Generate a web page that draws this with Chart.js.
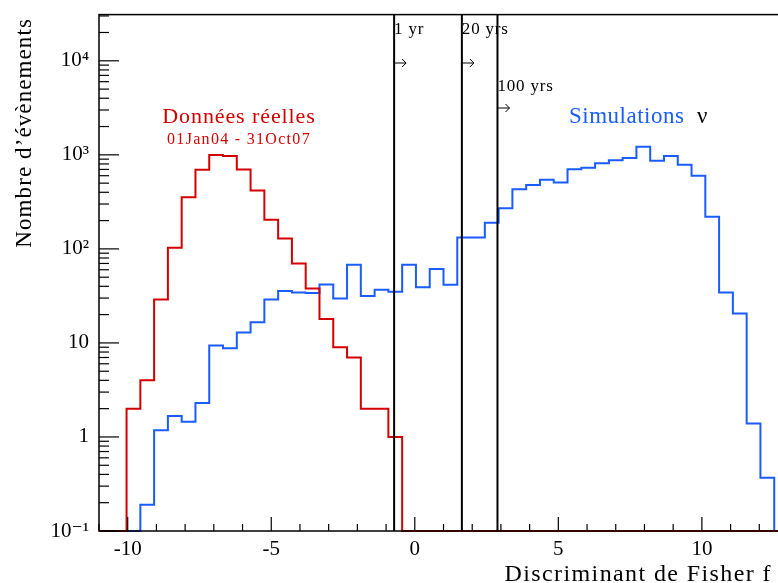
<!DOCTYPE html>
<html>
<head>
<meta charset="utf-8">
<script src="https://cdn.jsdelivr.net/npm/chart.js@4.4.1/dist/chart.umd.min.js"></script>
<style>
  html, body { margin: 0; padding: 0; overflow: hidden; background: #fff; }
  canvas { display: block; }
</style>
</head>
<body>
<canvas id="fisher" width="800" height="583"></canvas>
<script>
// histogram binning (-11 .. 13, 50 bins)
const histMin = -11;
const histMax = 13;
const nBins = 50;

// Données réelles (01Jan04 - 31Oct07)
const dataCounts = [
  0, 0, 2, 4, 29, 103, 354, 696, 998, 973,
  697, 417, 204, 129, 70, 38, 18, 9, 7, 2,
  2, 1, 0, 0, 0, 0, 0, 0, 0, 0,
  0, 0, 0, 0, 0, 0, 0, 0, 0, 0,
  0, 0, 0, 0, 0, 0, 0, 0, 0, 0,
];

// Simulations nu
const simCounts = [
  0, 0, 0, 0.19, 1.18, 1.67, 1.45, 2.3, 9.4, 8.8,
  12.9, 16.6, 29, 35.6, 34.4, 33.9, 41.9, 29.7, 68, 31.5,
  36.8, 35, 68, 39, 61, 41.6, 132, 132, 190, 270,
  430, 479, 545, 507, 702, 727, 813, 875, 927, 1222,
  867, 973, 787, 601, 219, 34.4, 20.5, 1.39, 0.368, 0,
];

// cuts on f
const cutValues = [-0.72, 1.64, 2.88];
const cutLabels = ["1 yr", "20 yrs", "100 yrs"];

const xTickValues = [-10, -5, 0, 5, 10];
const yTickValues = [0.1, 1, 10, 100, 1000, 10000];
const yTickLabels = ["10\u207B\u00B9", "1", "10", "10\u00B2", "10\u00B3", "10\u2074"];

const yMin = 0.1;
const yMax = 31000;
const serif = "'Liberation Serif', 'DejaVu Serif', serif";
const red = "#d40000";
const blue = "#1a5cff";

function histPoints(counts) {
  const w = (histMax - histMin) / nBins;
  const pts = counts.map((v, i) => ({ x: histMin + i * w, y: v > 0 ? v : yMin }));
  const last = counts[counts.length - 1];
  pts.push({ x: histMax, y: last > 0 ? last : yMin });
  return pts;
}

function drawText(ctx, txt, x, y, size, spacing) {
  ctx.font = size + "px " + serif;
  ctx.letterSpacing = spacing + "px";
  ctx.fillText(txt, x, y);
  ctx.letterSpacing = "0px";
}

const decorPlugin = {
  id: "decor",
  afterDraw(chart) {
    const ctx = chart.ctx;
    const area = chart.chartArea;
    const xs = chart.scales.x;
    const ys = chart.scales.y;
    ctx.save();

    // frame
    ctx.strokeStyle = "#000";
    ctx.lineWidth = 1.5;
    ctx.strokeRect(area.left, area.top, area.right - area.left, area.bottom - area.top);

    // y ticks (inside)
    ctx.lineWidth = 1.2;
    for (let d = -1; d <= 4; d++) {
      for (let m = 1; m <= 9; m++) {
        const v = m * Math.pow(10, d);
        if (v < yMin || v > yMax) continue;
        const py = ys.getPixelForValue(v);
        const len = m === 1 ? 20 : 10;
        ctx.beginPath();
        ctx.moveTo(area.left, py);
        ctx.lineTo(area.left + len, py);
        ctx.stroke();
      }
    }
    // x ticks (inside)
    for (let v = -11; v <= 13; v++) {
      const px = xs.getPixelForValue(v);
      const len = v % 5 === 0 ? 14 : 7;
      ctx.beginPath();
      ctx.moveTo(px, area.bottom);
      ctx.lineTo(px, area.bottom - len);
      ctx.stroke();
    }

    // cut lines
    ctx.lineWidth = 2;
    cutValues.forEach((c, i) => {
      const px = xs.getPixelForValue(c);
      ctx.beginPath();
      ctx.moveTo(px, area.top);
      ctx.lineTo(px, area.bottom);
      ctx.stroke();

      const ty = i < 2 ? 30 : 87;
      const ay = i < 2 ? 63 : 108;
      ctx.fillStyle = "#000";
      ctx.textAlign = "left";
      ctx.textBaseline = "middle";
      drawText(ctx, cutLabels[i], px, ty, 17, 0.8);

      ctx.lineWidth = 1;
      ctx.beginPath();
      ctx.moveTo(px, ay);
      ctx.lineTo(px + 12, ay);
      ctx.moveTo(px + 8, ay - 4);
      ctx.lineTo(px + 12, ay);
      ctx.lineTo(px + 8, ay + 4);
      ctx.stroke();
      ctx.lineWidth = 2;
    });

    // annotations
    ctx.textBaseline = "middle";
    ctx.textAlign = "center";
    ctx.fillStyle = red;
    drawText(ctx, "Données réelles", 239, 117, 22, 0.9);
    drawText(ctx, "01Jan04 - 31Oct07", 239, 140, 16, 1.3);

    ctx.textAlign = "left";
    ctx.fillStyle = blue;
    drawText(ctx, "Simulations", 569, 117, 23, 0.5);
    ctx.fillStyle = "#000";
    drawText(ctx, "\u03BD", 697, 117, 23, 0);

    // axis titles
    ctx.fillStyle = "#000";
    ctx.textAlign = "right";
    ctx.textBaseline = "alphabetic";
    drawText(ctx, "Discriminant de Fisher f", 772, 581, 24, 1.4);

    ctx.translate(31, 18);
    ctx.rotate(-Math.PI / 2);
    ctx.textAlign = "right";
    ctx.textBaseline = "alphabetic";
    drawText(ctx, "Nombre d\u2019évènements", 0, 0, 23, 1.1);
    ctx.restore();
  },
};

new Chart(document.getElementById("fisher"), {
  type: "line",
  data: {
    datasets: [
      {
        label: "Données réelles",
        data: histPoints(dataCounts),
        borderColor: red,
        borderWidth: 2,
        pointRadius: 0,
        stepped: true,
        fill: false,
        clip: false,
      },
      {
        label: "Simulations",
        data: histPoints(simCounts),
        borderColor: blue,
        borderWidth: 2,
        pointRadius: 0,
        stepped: true,
        fill: false,
        clip: false,
      },
    ],
  },
  options: {
    responsive: false,
    animation: false,
    layout: { padding: { top: 10, right: 12, left: 0, bottom: 0 } },
    plugins: {
      legend: { display: false },
      tooltip: { enabled: false },
    },
    scales: {
      x: {
        type: "linear",
        min: histMin,
        max: histMax,
        grid: { display: false },
        border: { display: false },
        afterBuildTicks: (s) => {
          s.ticks = xTickValues.map((v) => ({ value: v }));
        },
        afterFit: (s) => {
          s.height = 52;
        },
        ticks: {
          color: "#000",
          padding: -2,
          maxRotation: 0,
          font: { family: serif, size: 21 },
        },
      },
      y: {
        type: "logarithmic",
        min: yMin,
        max: yMax,
        grid: { display: false },
        border: { display: false },
        afterBuildTicks: (s) => {
          s.ticks = yTickValues.map((v) => ({ value: v }));
        },
        afterFit: (s) => {
          s.width = 99;
        },
        ticks: {
          color: "#000",
          padding: 2,
          font: { family: serif, size: 21 },
          callback: (v) => {
            const i = yTickValues.findIndex((t) => Math.abs(t - v) / t < 1e-6);
            return i >= 0 ? yTickLabels[i] : "";
          },
        },
      },
    },
  },
  plugins: [decorPlugin],
});
</script>
</body>
</html>
